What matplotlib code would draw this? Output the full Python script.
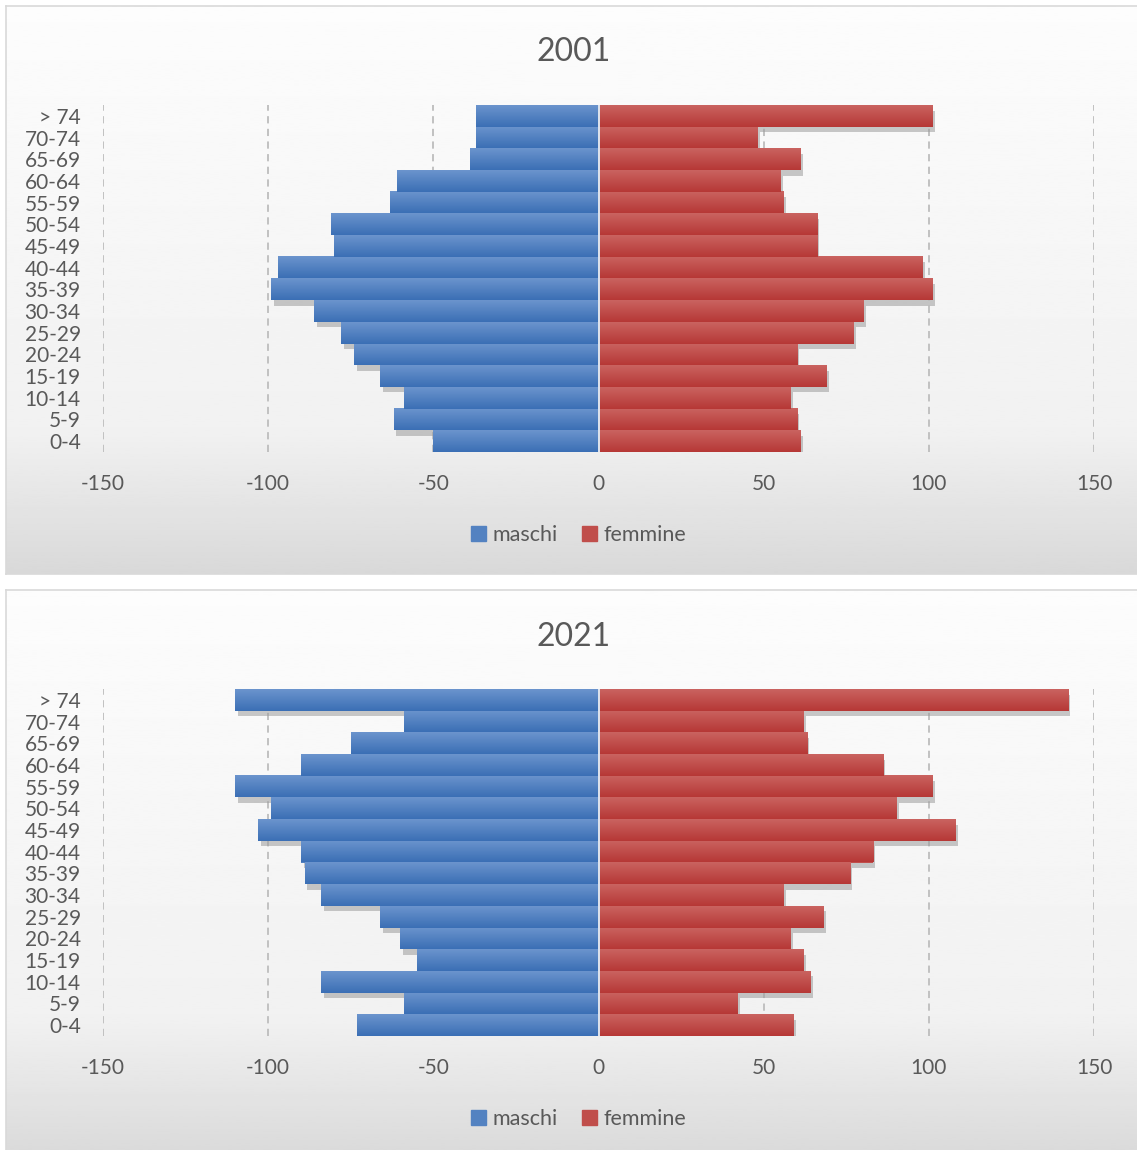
import numpy as np
import matplotlib
matplotlib.use('Agg')
import matplotlib.pyplot as plt
from matplotlib.colors import LinearSegmentedColormap
from matplotlib.patches import Patch
from matplotlib.transforms import ScaledTranslation

plt.rcParams['font.family'] = ['Lato', 'DejaVu Sans']
plt.rcParams['axes.unicode_minus'] = False

# classi di eta, dal basso verso l'alto
eta = ['0-4', '5-9', '10-14', '15-19', '20-24', '25-29', '30-34', '35-39',
       '40-44', '45-49', '50-54', '55-59', '60-64', '65-69', '70-74', '> 74']

maschi_2001 = [50, 62, 59, 66, 74, 78, 86, 99, 97, 80, 81, 63, 61, 39, 37, 37]
femmine_2001 = [61, 60, 58, 69, 60, 77, 80, 101, 98, 66, 66, 56, 55, 61, 48, 101]

maschi_2021 = [73, 59, 84, 55, 60, 66, 84, 89, 90, 103, 99, 110, 90, 75, 59, 110]
femmine_2021 = [59, 42, 64, 62, 58, 68, 56, 76, 83, 108, 90, 101, 86, 63, 62, 142]

blu = LinearSegmentedColormap.from_list('blu', ['#3b6fb5', '#6b94cd'])
rosso = LinearSegmentedColormap.from_list('rosso', ['#b63836', '#ca6360'])
grigio = '#595959'

fig = plt.figure(figsize=(11.37, 11.5), dpi=100)


def sfondo(rect):
    bg = fig.add_axes(rect, zorder=0)
    yy = np.linspace(0, 1, 300)
    g = np.interp(yy, [0, 0.25, 1], [0.85, 0.945, 0.99])
    bg.imshow(g.reshape(-1, 1), cmap='gray', vmin=0, vmax=1, extent=[0, 1, 0, 1],
              aspect='auto', origin='lower')
    bg.set_xticks([])
    bg.set_yticks([])
    for s in bg.spines.values():
        s.set_color('#d9d9d9')
        s.set_linewidth(1.2)
    return bg


def piramide(ax, maschi, femmine):
    y = np.arange(len(eta))
    m = -np.array(maschi)
    f = np.array(femmine)

    # ombre
    off = ScaledTranslation(2 / 72, -4 / 72, fig.dpi_scale_trans)
    for vals in (m, f):
        ombra = ax.barh(y, vals, height=1.0, color='#9c9c9c', alpha=0.55, zorder=1, linewidth=0)
        for p in ombra:
            p.set_transform(ax.transData + off)

    # barre con sfumatura
    grad = np.linspace(0, 1, 60).reshape(-1, 1)
    for vals, cmap in ((m, blu), (f, rosso)):
        barre = ax.barh(y, vals, height=1.0, color=cmap(0.5), zorder=2, linewidth=0)
        for p in barre:
            x0, y0 = p.get_x(), p.get_y()
            ax.imshow(grad, cmap=cmap, extent=[x0, x0 + p.get_width(), y0, y0 + p.get_height()],
                      aspect='auto', origin='lower', clip_path=p, zorder=2.5)

    ax.axvline(0, color='#dfe5ee', lw=1.4, zorder=4)

    ax.set_xlim(-150, 150)
    ax.set_ylim(-0.5, 15.5)
    ax.set_xticks(range(-150, 151, 50))
    ax.set_yticks(y, eta)
    ax.grid(axis='x', color='#bdbdbd', linestyle=(0, (4, 3)), linewidth=1.3)
    ax.set_axisbelow(True)
    ax.tick_params(length=0, labelsize=15, colors=grigio, pad=16)
    ax.set_facecolor('none')
    for s in ax.spines.values():
        s.set_visible(False)

    handles = [Patch(color=blu(0.5)), Patch(color=rosso(0.5))]
    ax.legend(handles, ['maschi', 'femmine'], loc='center', bbox_to_anchor=(0.48, -0.239),
              ncol=2, frameon=False, fontsize=15.5, handlelength=0.7, handleheight=0.7,
              handletextpad=0.3, columnspacing=1.1, labelcolor=grigio)


# pannello 2001
sfondo([6 / 1137, 1 - 574 / 1150, 1.0, 568 / 1150])
ax1 = fig.add_axes([103 / 1137, 1 - 452 / 1150, 991 / 1137, 347 / 1150], zorder=1)
piramide(ax1, maschi_2001, femmine_2001)
fig.text(574 / 1137, 1 - 52 / 1150, '2001', ha='center', va='center', fontsize=23, color=grigio)

# pannello 2021
sfondo([6 / 1137, -0.01, 1.0, 572 / 1150])
ax2 = fig.add_axes([103 / 1137, 1 - 1036 / 1150, 991 / 1137, 347 / 1150], zorder=1)
piramide(ax2, maschi_2021, femmine_2021)
fig.text(574 / 1137, 1 - 637 / 1150, '2021', ha='center', va='center', fontsize=23, color=grigio)

fig.savefig('out.png', dpi=100)
